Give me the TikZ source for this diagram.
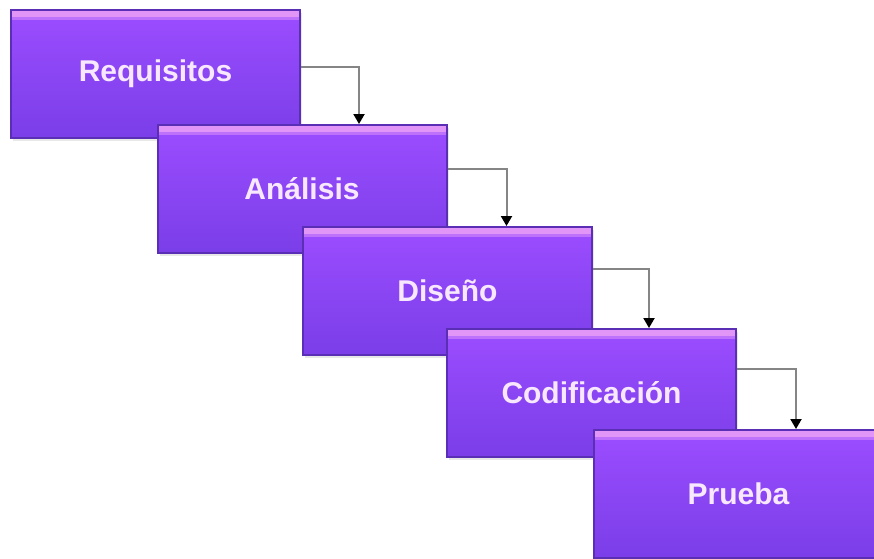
\documentclass[tikz,border=0pt]{standalone}
\usepackage{fontspec}
\setmainfont{Liberation Sans}
\usetikzlibrary{arrows.meta,shadows}
\definecolor{boxtop}{HTML}{9C4DFF}
\definecolor{boxbot}{HTML}{7A3EE8}
\definecolor{boxedge}{HTML}{5A2EB5}
\definecolor{boxhi}{HTML}{E196F7}
\definecolor{boxtext}{HTML}{F8E8FF}
\definecolor{connline}{HTML}{858585}
\begin{document}
\begin{tikzpicture}[x=1pt,y=-1pt,
  phase/.style={rectangle, minimum width=289pt, minimum height=128pt, inner sep=0pt,
    top color=boxtop, bottom color=boxbot, draw=boxedge, line width=2pt,
    drop shadow={opacity=0.18, shadow xshift=2pt, shadow yshift=-3pt},
    text=boxtext, font=\bfseries\fontsize{30}{34}\selectfont,
    path picture={\fill[boxhi] (path picture bounding box.north west) rectangle ([yshift=-7pt]path picture bounding box.north east);
                  \fill[boxhi!50!boxtop] ([yshift=-7pt]path picture bounding box.north west) rectangle ([yshift=-10pt]path picture bounding box.north east);}},
  conn/.style={draw=connline, line width=2pt, -{Triangle[width=11pt,length=10pt,color=black]}}]
\useasboundingbox (0,0) rectangle (874,558);
\clip (0,0) rectangle (874,558);

\node[phase] (r) at (155.5,74) {Requisitos};
\coordinate (t1) at ([xshift=58pt]r.east);
\node[phase] (a) at (302,189) {Análisis};
\draw[conn] ([yshift=-58pt]r.north east) -| (t1 |- a.north);
\coordinate (t2) at ([xshift=59pt]a.east);
\node[phase] (d) at (447.5,291) {Diseño};
\draw[conn] ([yshift=-45pt]a.north east) -| (t2 |- d.north);
\coordinate (t3) at ([xshift=56pt]d.east);
\node[phase] (c) at (591.5,393) {Codificación};
\draw[conn] ([yshift=-43pt]d.north east) -| (t3 |- c.north);
\coordinate (t4) at ([xshift=59pt]c.east);
\node[phase] (p) at (738.5,494) {Prueba};
\draw[conn] ([yshift=-41pt]c.north east) -| (t4 |- p.north);
\end{tikzpicture}
\end{document}
